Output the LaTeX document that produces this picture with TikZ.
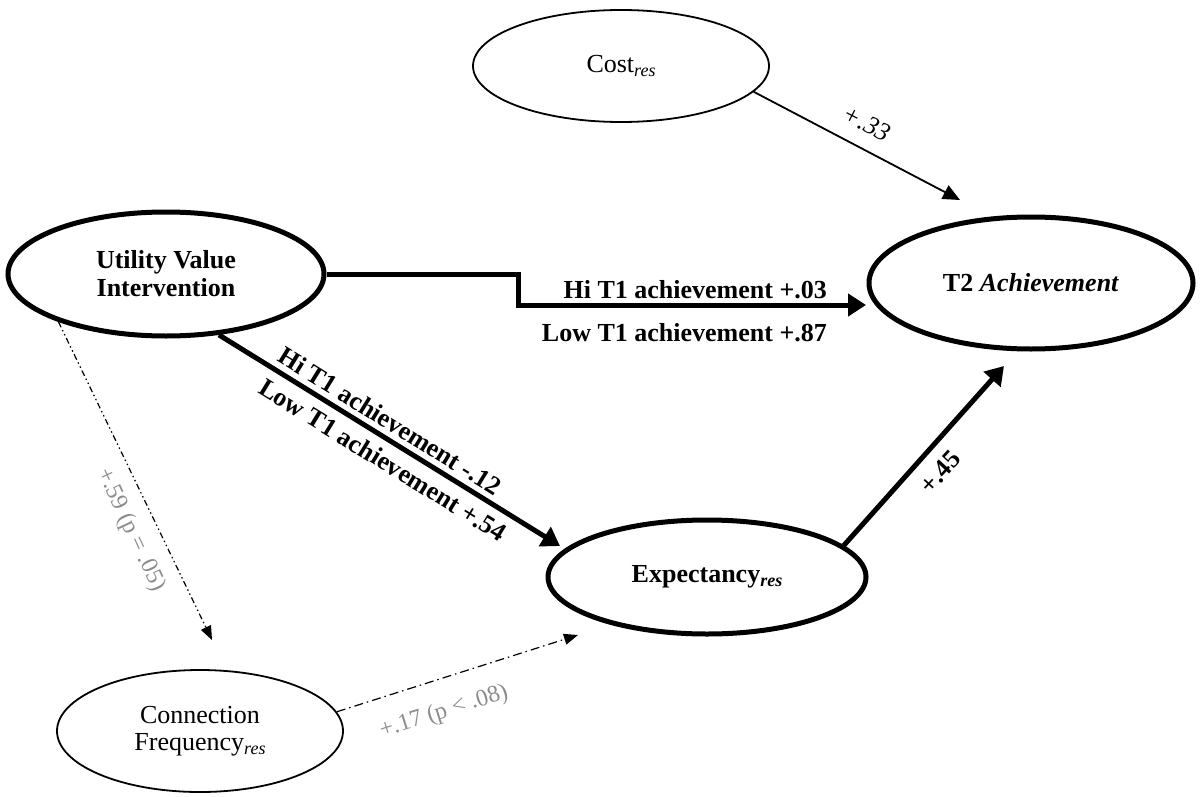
\documentclass[tikz,border=0pt]{standalone}
\usepackage{fontspec}
\setmainfont{Liberation Serif}
\usetikzlibrary{arrows.meta,shapes.geometric}
\definecolor{labelgray}{RGB}{140,140,140}
% italic "res" subscript used for residualised constructs
\newcommand{\resub}{\raisebox{-4pt}{\fontsize{18}{18}\selectfont\itshape res}}

\begin{document}
\begin{tikzpicture}[x=1pt,y=-1pt,
  every node/.style={font=\fontsize{26}{29}\selectfont, align=center, inner sep=0pt},
  latent/.style={ellipse, draw, line width=5pt},
  plainvar/.style={ellipse, draw, line width=1.8pt},
  boldpath/.style={line width=5pt, -{Triangle[length=18pt,width=22pt]}},
  thinpath/.style={line width=1.8pt, -{Triangle[length=17pt,width=15pt]}},
  weakpath/.style={line width=1.2pt, -{Triangle[length=14pt,width=11pt]}},
  dashdotdot/.style={dash pattern=on 6pt off 3pt on 1.5pt off 3pt on 1.5pt off 3pt},
  dashdotline/.style={dash pattern=on 9pt off 4pt on 1.5pt off 4pt},
  greylabel/.style={text=labelgray, font=\fontsize{24}{26}\selectfont},
  coef/.style={font=\fontsize{26}{29}\selectfont\bfseries}
]
\useasboundingbox (0,0) rectangle (1204,797);

% constructs
\node[plainvar, minimum width=296pt, minimum height=112pt] (cost) at (621,66) {Cost\resub};
\node[latent, minimum width=324pt, minimum height=132pt] (t2) at (1031,283) {\textbf{T2 \textit{Achievement}}};
\node[latent, minimum width=316pt, minimum height=124pt, font=\fontsize{26}{28}\selectfont\bfseries] (uvi) at (166,274) {Utility Value\\Intervention};
\node[latent, minimum width=318pt, minimum height=114pt] (exp) at (707,577) {\textbf{Expectancy\resub}};
\node[plainvar, minimum width=286pt, minimum height=122pt, font=\fontsize{26}{27}\selectfont] (conn) at (200,731) {Connection\\Frequency\resub};

% arrow end points
\coordinate (costtip) at (960,200);
\coordinate (step) at (518,305);
\coordinate (achtip) at (866,305);
\coordinate (exptip) at (560,546);
\coordinate (t2tip) at (1004,366);
\coordinate (conntip) at (212,640);
\coordinate (expweak) at (578,635);

% paths
\draw[thinpath] (cost.-11.6) -- (costtip);
\draw[boldpath] (uvi.east) -| (step) -- (achtip);
\draw[boldpath] (uvi.-49.4) -- (exptip);
\draw[boldpath] (exp.13.6) -- (t2tip);
\draw[weakpath, dashdotdot] (uvi.204.4) -- (conntip);
\draw[weakpath, dashdotline] (conn.8.5) -- (expweak);

% coefficients
\node[font=\fontsize{26}{29}\selectfont\itshape, rotate=-27.3] (l33) at (867,123) {+.33};
\node[coef, anchor=base east] (lhi) at (827,298) {Hi T1 achievement +.03};
\node[coef, anchor=base east] (llow) at (827,341) {Low T1 achievement +.87};
\node[coef, rotate=-31.7] (lhi2) at (390,421) {Hi T1 achievement -.12};
\node[coef, rotate=-31.7] (llow2) at (383,460) {Low T1 achievement +.54};
\node[coef, rotate=47.3] (l45) at (940,472) {+.45};
\node[greylabel, rotate=-65] (l59) at (131,530) {+.59 (p = .05)};
\node[greylabel, rotate=17.4] (l17) at (444,712) {+.17 (p < .08)};
\end{tikzpicture}
\end{document}
